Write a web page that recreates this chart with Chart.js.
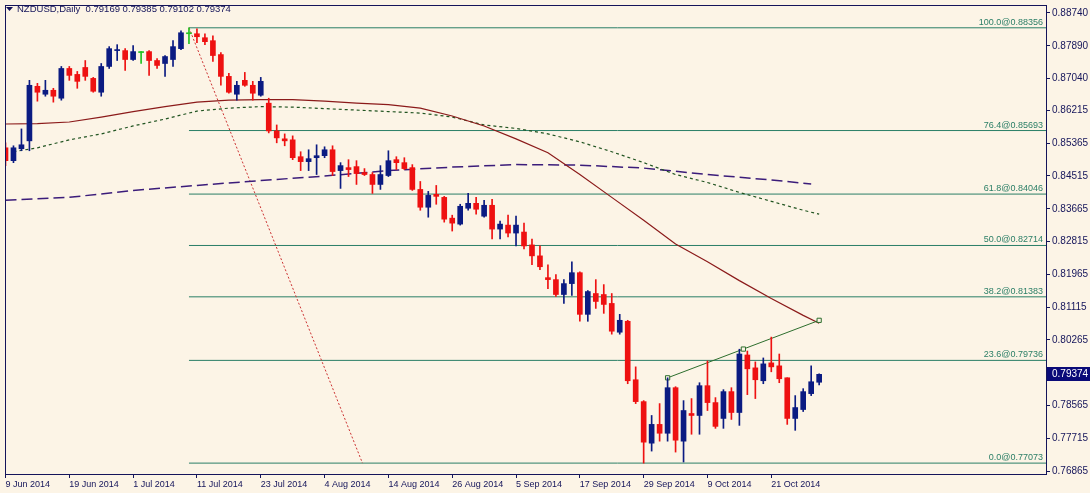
<!DOCTYPE html>
<html>
<head>
<meta charset="utf-8">
<script src="https://cdn.jsdelivr.net/npm/chart.js@4.4.0/dist/chart.umd.min.js"></script>
<style>
  html, body { margin: 0; padding: 0; background: #FCF4E6; }
  #wrap { width: 1090px; height: 493px; position: relative; }
</style>
</head>
<body>
<div id="wrap"><canvas id="chart"></canvas></div>
<script>
// NZDUSD daily, 9 Jun 2014 .. 29 Oct 2014 (one entry per bar)
const symbol = 'NZDUSD,Daily';
const open = [
  .85246,.84912,.85221,.85426,.86840,.86634,.86737,.86531,.87302,.87148,
  .87328,.87045,.86686,.87354,.87765,.87765,.87534,.87714,.87739,.87508,
  .87431,.87534,.87816,.88202,.88202,.88099,.88022,.87662,.87097,.86634,
  .86994,.86866,.86609,.86403,.85683,.85478,.85452,.85015,.84887,.84989,
  .85041,.85195,.84655,.84732,.84758,.84604,.84553,.84296,.84527,.84938,
  .84861,.84732,.84167,.83705,.84039,.83961,.83422,.83268,.83679,.83807,
  .83473,.83756,.83139,.83242,.83036,.83062,.82728,.82445,.81880,.81829,
  .81443,.81726,.82009,.80929,.81469,.81443,.81212,.80466,.80749,.79234,
  .78667,.77590,.78077,.77847,.79028,.77642,.78359,.78308,.79080,.78642,
  .78231,.78926,.78385,.79876,.79542,.79208,.79671,.79594,.79285,.78231,
  .78462,.78874,.79169
];
const high = [
  .85375,.85298,.85735,.86994,.86917,.86994,.86788,.87354,.87354,.87225,
  .87508,.87071,.87431,.87868,.87919,.87816,.87894,.87739,.87765,.87559,
  .87637,.88022,.88279,.88356,.88330,.88202,.88151,.87714,.87174,.86968,
  .87200,.86968,.87071,.86531,.85838,.85606,.85555,.85144,.85195,.85324,
  .85272,.85298,.84861,.84938,.84912,.84707,.84604,.84784,.85169,.85015,
  .84989,.84810,.84373,.84116,.84270,.83987,.83499,.83782,.84064,.83961,
  .83884,.83910,.83345,.83499,.83473,.83293,.82882,.82702,.82214,.81957,
  .81829,.82291,.82034,.81546,.81829,.81700,.81469,.80929,.80775,.79568,
  .78693,.78308,.78616,.79284,.79054,.78693,.78746,.79157,.79722,.78771,
  .78977,.79028,.80025,.79978,.79697,.79799,.80339,.79901,.79285,.78823,
  .79003,.79594,.79385
];
const low = [
  .84784,.84861,.85169,.85169,.86454,.86583,.86429,.86480,.86994,.86788,
  .86994,.86686,.86583,.87302,.87508,.87251,.87508,.87431,.87123,.87302,
  .87097,.87354,.87791,.87945,.87971,.87919,.87482,.86866,.86660,.86480,
  .86840,.86480,.86583,.85632,.85375,.85298,.84938,.84655,.84655,.84553,
  .84989,.84527,.84193,.84501,.84296,.84527,.84064,.84167,.84501,.84681,
  .84681,.84141,.83627,.83447,.83782,.83319,.83088,.83242,.83627,.83525,
  .83447,.82882,.82882,.82933,.82702,.82625,.82214,.82086,.81597,.81391,
  .81212,.81417,.80749,.80749,.81083,.80955,.80415,.80415,.79131,.78616,
  .77073,.77385,.77642,.77642,.77359,.77102,.77821,.77821,.78436,.77974,
  .77974,.78205,.78051,.78848,.78746,.79131,.79440,.79157,.78077,.77923,
  .78410,.78823,.79102
];
const close = [
  .84912,.85246,.85324,.86866,.86686,.86737,.86583,.87302,.87123,.86968,
  .87097,.86711,.87354,.87816,.87791,.87534,.87739,.87714,.87508,.87380,
  .87611,.87868,.88228,.88202,.88125,.87996,.87637,.87097,.86686,.86866,
  .86866,.86660,.86968,.85683,.85503,.85426,.84989,.84887,.84964,.85041,
  .85195,.84630,.84784,.84681,.84578,.84553,.84296,.84553,.84912,.84861,
  .84707,.84167,.83705,.84013,.83987,.83396,.83293,.83730,.83807,.83653,
  .83756,.83139,.83268,.83036,.83242,.82702,.82445,.82163,.81829,.81443,
  .81726,.82009,.80929,.81520,.81263,.81186,.80492,.80775,.79208,.78667,
  .77616,.78077,.77847,.79028,.77667,.78436,.78308,.79080,.78642,.78025,
  .78926,.78385,.79901,.79517,.79234,.79645,.79568,.79260,.78231,.78513,
  .78926,.79182,.79374
];

// bottom axis: a date label every 8 bars
const dateTickBars = [0, 8, 16, 24, 32, 40, 48, 56, 64, 72, 80, 88, 96];
const dateTicks = ['9 Jun 2014', '19 Jun 2014', '1 Jul 2014', '11 Jul 2014', '23 Jul 2014',
  '4 Aug 2014', '14 Aug 2014', '26 Aug 2014', '5 Sep 2014', '17 Sep 2014',
  '29 Sep 2014', '9 Oct 2014', '21 Oct 2014'];
const priceTicks = [0.88740, 0.87890, 0.87040, 0.86215, 0.85365, 0.84515, 0.83665,
  0.82815, 0.81965, 0.81115, 0.80265, 0.78565, 0.77715, 0.76865];

// moving averages (bar index, value)
const maRedBars = [0,4,8,12,16,20,24,28,32,36,40,44,48,52,56,60,64,68,72,76,80,84,88,92,96,100,102];
const maRed = [.85863,.85870,.85914,.86043,.86185,.86313,.86429,.86480,.86493,.86493,.86454,.86403,.86364,
  .86274,.86069,.85812,.85478,.85118,.84553,.83961,.83370,.82754,.82291,.81803,.81340,.80903,.80698];
const maGreenBars = [1,4,8,12,16,20,24,28,32,36,40,44,48,52,56,60,64,68,72,76,80,84,88,92,96,100,102];
const maGreen = [.85144,.85246,.85452,.85606,.85812,.85992,.86197,.86274,.86313,.86300,.86262,.86223,.86185,
  .86146,.86043,.85838,.85748,.85606,.85401,.85144,.84861,.84553,.84347,.84090,.83859,.83627,.83525];
const maPurpleBars = [0,8,16,24,32,40,48,56,64,72,80,88,96,101];
const maPurple = [.83884,.83961,.84141,.84270,.84398,.84514,.84655,.84745,.84810,.84797,.84720,.84553,.84411,.84308];

// Fibonacci retracement
const fibStartBar = 23;
const fibEndBar = 44.75;
const fibPct = ['100.0', '76.4', '61.8', '50.0', '38.2', '23.6', '0.0'];
const fibPrice = [0.88356, 0.85693, 0.84046, 0.82714, 0.81383, 0.79736, 0.77073];

// trend line (bar, price)
const trendBars = [83, 92.5, 102];
const trendPrice = [0.79284, 0.80029, 0.80774];

const lastBarSlot = 130.4375;
const BG = '#FCF4E6', NAVY = '#14145A', UP = '#0B1B82', DOWN = '#EE1111', DOJI = '#22C322';
const FIB = '#2A7E66';
const FONT = "'Liberation Sans', Arial, sans-serif";

const candleColor = open.map((o, i) => close[i] > o ? UP : (close[i] < o ? DOWN : DOJI));
const wickData = open.map((o, i) => ({ x: i, y: [low[i], high[i]] }));
const bodyData = open.map((o, i) => ({ x: i, y: [Math.min(o, close[i]), Math.max(o, close[i])] }));

const datasets = [
  { type: 'bar', data: bodyData, backgroundColor: candleColor, barThickness: 5, minBarLength: 1, grouped: false, order: 0 },
  { type: 'bar', data: wickData, backgroundColor: candleColor, barThickness: 1, minBarLength: 1, grouped: false, order: 1 },
  { type: 'line', data: maRedBars.map((b, i) => ({ x: b, y: maRed[i] })), borderColor: '#8B1A1A', borderWidth: 1.2, pointRadius: 0, order: 5 },
  { type: 'line', data: maGreenBars.map((b, i) => ({ x: b, y: maGreen[i] })), borderColor: '#215421', borderWidth: 1.2, borderDash: [3, 3], pointRadius: 0, order: 5 },
  { type: 'line', data: maPurpleBars.map((b, i) => ({ x: b, y: maPurple[i] })), borderColor: '#3B1C7A', borderWidth: 1.5, borderDash: [11, 5], pointRadius: 0, order: 5 },
  { type: 'line', data: [{ x: fibStartBar, y: fibPrice[0] }, { x: fibEndBar, y: fibPrice[fibPrice.length - 1] }],
    borderColor: '#CC3333', borderWidth: 1, borderDash: [2, 2], pointRadius: 0, order: 6 },
  { type: 'line', data: trendBars.map((b, i) => ({ x: b, y: trendPrice[i] })), borderColor: '#2D6E2D', borderWidth: 1,
    pointRadius: 3, pointStyle: 'rect', pointBorderColor: '#2D6E2D', pointBackgroundColor: BG, pointBorderWidth: 1, order: 4 }
];
fibPrice.forEach(p => {
  datasets.push({ type: 'line', data: [{ x: fibStartBar, y: p }, { x: lastBarSlot, y: p }],
    borderColor: FIB, borderWidth: 1, pointRadius: 0, order: 7 });
});

const mt4Plugin = {
  id: 'mt4',
  beforeDraw(chart) {
    const ctx = chart.ctx;
    ctx.save();
    ctx.fillStyle = BG;
    ctx.fillRect(0, 0, chart.width, chart.height);
    ctx.restore();
  },
  afterDraw(chart) {
    const ctx = chart.ctx, a = chart.chartArea, ys = chart.scales.y;
    ctx.save();
    // frame
    ctx.strokeStyle = NAVY;
    ctx.lineWidth = 1;
    ctx.strokeRect(a.left + 0.5, a.top + 0.5, a.right - a.left, a.bottom - a.top);

    // fib labels
    ctx.font = '9px ' + FONT;
    ctx.fillStyle = FIB;
    ctx.textAlign = 'right';
    ctx.textBaseline = 'bottom';
    fibPrice.forEach((p, i) => {
      ctx.fillText(fibPct[i] + '@' + p.toFixed(5), a.right - 3, ys.getPixelForValue(p) - 1);
    });

    // title
    const n = close.length - 1;
    ctx.fillStyle = NAVY;
    ctx.beginPath();
    ctx.moveTo(6, 7); ctx.lineTo(13, 7); ctx.lineTo(9.5, 11); ctx.closePath();
    ctx.fill();
    ctx.font = '9.5px ' + FONT;
    ctx.textAlign = 'left';
    ctx.textBaseline = 'middle';
    ctx.fillText(symbol + '  ' + [open[n], high[n], low[n], close[n]].map(v => v.toFixed(5)).join(' '), 17, 9);

    // current price box
    const py = ys.getPixelForValue(close[n]);
    ctx.fillStyle = '#0A0A78';
    ctx.fillRect(a.right + 1, Math.round(py) - 7, chart.width - a.right - 1, 14);
    ctx.fillStyle = '#FFFFFF';
    ctx.font = '10px ' + FONT;
    ctx.fillText(close[n].toFixed(5), a.right + 6, Math.round(py));
    ctx.restore();
  }
};

new Chart(document.getElementById('chart'), {
  type: 'bar',
  data: { datasets: datasets },
  options: {
    responsive: true,
    maintainAspectRatio: false,
    animation: false,
    layout: { padding: { left: 2, top: 1, right: 0, bottom: 0 } },
    plugins: { legend: { display: false }, tooltip: { enabled: false } },
    scales: {
      x: {
        type: 'linear',
        min: -0.0625,
        max: lastBarSlot,
        offset: false,
        grid: { offset: false, drawOnChartArea: false, drawTicks: true, tickLength: 4, color: NAVY },
        border: { display: false },
        afterBuildTicks: s => { s.ticks = dateTickBars.map(v => ({ value: v })); },
        afterFit: s => { s.height = 19; s.paddingLeft = 0; s.paddingRight = 0; },
        ticks: {
          autoSkip: false, maxRotation: 0, align: 'start', padding: 1,
          color: NAVY, font: { family: FONT, size: 9 },
          callback: (v, i) => dateTicks[i]
        }
      },
      y: {
        position: 'right',
        min: 0.76791,
        max: 0.88947,
        grid: { drawOnChartArea: false, drawTicks: true, tickLength: 4, color: NAVY },
        border: { display: false },
        afterBuildTicks: s => { s.ticks = priceTicks.map(v => ({ value: v })); },
        afterFit: s => { s.width = 44; s.paddingTop = 0; s.paddingBottom = 0; },
        ticks: {
          crossAlign: 'near', padding: 2, color: NAVY, font: { family: FONT, size: 10 },
          callback: v => v.toFixed(5)
        }
      }
    }
  },
  plugins: [mt4Plugin]
});
</script>
</body>
</html>
